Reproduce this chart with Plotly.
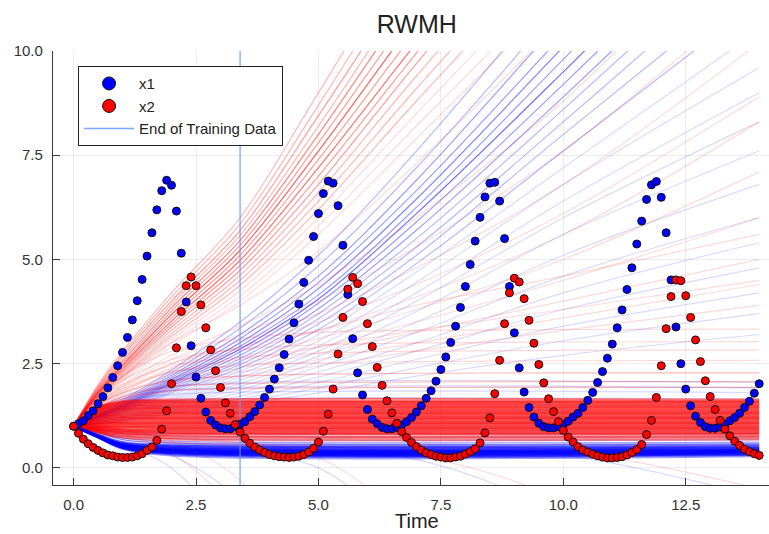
import plotly.graph_objects as go

# ---------------- data ----------------
time = [round(0.1 * i, 1) for i in range(141)]

x1 = [1.00, 1.06, 1.13, 1.26, 1.37, 1.54, 1.71, 1.92, 2.17, 2.45,
      2.77, 3.13, 3.55, 4.01, 4.52, 5.08, 5.64, 6.19, 6.65, 6.90,
      6.78, 6.16, 5.15, 3.98, 2.93, 2.18, 1.67, 1.34, 1.14, 1.03,
      0.96, 0.94, 0.94, 0.99, 1.05, 1.11, 1.23, 1.35, 1.51, 1.69,
      1.89, 2.13, 2.40, 2.72, 3.09, 3.48, 3.93, 4.45, 4.98, 5.55,
      6.10, 6.58, 6.88, 6.83, 6.29, 5.34, 4.16, 3.10, 2.28, 1.75,
      1.40, 1.17, 1.06, 0.97, 0.94, 0.94, 0.97, 1.03, 1.11, 1.21,
      1.34, 1.49, 1.67, 1.85, 2.08, 2.36, 2.66, 3.01, 3.40, 3.85,
      4.35, 4.88, 5.44, 6.01, 6.50, 6.83, 6.85, 6.40, 5.50, 4.35,
      3.24, 2.40, 1.82, 1.45, 1.22, 1.07, 0.99, 0.96, 0.96, 0.99,
      1.04, 1.12, 1.22, 1.31, 1.45, 1.62, 1.81, 2.05, 2.31, 2.63,
      2.97, 3.36, 3.79, 4.28, 4.80, 5.37, 5.92, 6.44, 6.79, 6.87,
      6.49, 5.64, 4.51, 3.38, 2.50, 1.89, 1.49, 1.24, 1.09, 0.99,
      0.95, 0.95, 0.98, 1.05, 1.13, 1.21, 1.31, 1.45, 1.60, 1.79,
      2.02]

x2 = [1.00, 0.83, 0.69, 0.58, 0.49, 0.42, 0.36, 0.31, 0.29, 0.26,
      0.25, 0.25, 0.26, 0.29, 0.34, 0.42, 0.50, 0.66, 0.93, 1.37,
      2.02, 2.88, 3.75, 4.37, 4.58, 4.37, 3.91, 3.36, 2.83, 2.33,
      1.93, 1.56, 1.31, 1.04, 0.86, 0.71, 0.59, 0.50, 0.43, 0.37,
      0.32, 0.29, 0.27, 0.26, 0.25, 0.26, 0.28, 0.32, 0.38, 0.47,
      0.62, 0.88, 1.29, 1.89, 2.73, 3.61, 4.29, 4.57, 4.42, 3.99,
      3.46, 2.91, 2.41, 1.98, 1.61, 1.32, 1.07, 0.87, 0.73, 0.61,
      0.51, 0.43, 0.36, 0.32, 0.28, 0.26, 0.24, 0.24, 0.26, 0.28,
      0.33, 0.39, 0.46, 0.60, 0.84, 1.20, 1.78, 2.58, 3.46, 4.20,
      4.55, 4.46, 4.06, 3.54, 2.99, 2.48, 2.04, 1.66, 1.35, 1.11,
      0.90, 0.74, 0.62, 0.51, 0.43, 0.38, 0.33, 0.29, 0.26, 0.24,
      0.24, 0.25, 0.27, 0.31, 0.37, 0.44, 0.56, 0.80, 1.14, 1.69,
      2.45, 3.34, 4.11, 4.51, 4.49, 4.13, 3.61, 3.07, 2.55, 2.09,
      1.71, 1.40, 1.14, 0.93, 0.77, 0.64, 0.54, 0.45, 0.39, 0.34,
      0.30]

t_train_end = 3.4

# posterior predictive trajectories, sampled at knot times;
# the *_n lists give how many posterior draws share each trajectory
knots = [0, 0.5, 1, 2, 3.4, 5, 7, 10, 14]
band_knots = [0, 0.5, 1, 2, 14]

red_fan = [
    [1, 2.00, 2.80, 4.20, 6.00, 9.00, 12.8, 18.0, 26],
    [1, 1.96, 2.74, 4.10, 5.85, 8.70, 12.4, 17.5, 25],
    [1, 1.93, 2.68, 4.00, 5.70, 8.45, 12.0, 17.0, 24],
    [1, 1.90, 2.62, 3.92, 5.58, 8.20, 11.7, 16.5, 23],
    [1, 1.87, 2.56, 3.84, 5.46, 8.00, 11.4, 16.0, 23],
    [1, 1.84, 2.50, 3.76, 5.34, 7.80, 11.1, 15.8, 22],
    [1, 1.82, 2.46, 3.68, 5.22, 7.60, 10.8, 15.4, 22],
    [1, 1.80, 2.42, 3.60, 5.10, 7.40, 10.5, 15.0, 21],
    [1, 1.78, 2.38, 3.52, 4.98, 7.20, 10.2, 14.6, 21],
    [1, 1.76, 2.34, 3.45, 4.86, 7.00, 9.95, 14.2, 20],
    [1, 1.74, 2.30, 3.38, 4.74, 6.80, 9.70, 13.8, 20],
    [1, 1.72, 2.26, 3.30, 4.62, 6.60, 9.40, 13.4, 19],
    [1, 1.70, 2.22, 3.22, 4.50, 6.40, 9.10, 13.0, 18.5],
    [1, 1.68, 2.18, 3.15, 4.38, 6.20, 8.80, 12.6, 18],
    [1, 1.66, 2.14, 3.08, 4.25, 6.00, 8.50, 12.2, 17.5],
    [1, 1.64, 2.10, 3.00, 4.12, 5.80, 8.20, 11.8, 17],
    [1, 1.62, 2.06, 2.92, 4.00, 5.60, 7.90, 11.4, 16],
]
red_fan_n = [2, 2, 3, 2, 4, 3, 6, 3, 5, 3, 3, 2, 2, 2, 1, 1, 1]

red_mid = [
    [1, 1.70, 2.20, 3.00, 3.90, 5.20, 7.30, 10.8, 16],
    [1, 1.60, 2.00, 2.70, 3.40, 4.40, 6.00, 8.80, 13.5],
    [1, 1.55, 1.95, 2.60, 3.20, 4.00, 5.30, 7.60, 11.5],
    [1, 1.50, 1.90, 2.50, 3.05, 3.70, 4.80, 6.80, 10.2],
    [1, 1.50, 1.85, 2.40, 2.90, 3.50, 4.40, 6.10, 8.90],
    [1, 1.45, 1.80, 2.35, 2.80, 3.30, 4.10, 5.60, 8.30],
    [1, 1.45, 1.75, 2.25, 2.65, 3.10, 3.80, 5.00, 7.10],
    [1, 1.40, 1.70, 2.15, 2.50, 2.90, 3.50, 4.50, 6.00],
    [1, 1.40, 1.65, 2.05, 2.40, 2.75, 3.25, 4.00, 5.00],
    [1, 1.35, 1.60, 2.00, 2.30, 2.60, 3.00, 3.60, 4.40],
    [1, 1.35, 1.55, 1.90, 2.20, 2.45, 2.80, 3.30, 3.90],
    [1, 1.70, 2.20, 2.80, 3.10, 3.25, 3.30, 3.32, 3.33],
    [1, 1.65, 2.10, 2.60, 2.85, 2.95, 3.00, 3.02, 3.03],
    [1, 1.60, 2.00, 2.45, 2.65, 2.75, 2.80, 2.82, 2.83],
    [1, 1.55, 1.90, 2.30, 2.45, 2.52, 2.55, 2.57, 2.58],
    [1, 1.50, 1.80, 2.10, 2.20, 2.25, 2.27, 2.28, 2.28],
    [1, 1.45, 1.70, 1.95, 2.02, 2.05, 2.06, 2.07, 2.07],
    [1, 1.45, 1.65, 1.85, 1.90, 1.92, 1.93, 1.93, 1.93],
    [1, 1.50, 1.85, 2.30, 2.60, 2.90, 3.30, 3.80, 4.50],
    [1, 1.55, 1.95, 2.50, 2.90, 3.30, 3.90, 4.60, 5.60],
]
red_mid_n = [1, 1, 1, 1, 1, 1, 1, 1, 1, 1, 1, 1, 1, 1, 1, 2, 2, 2, 1, 1]

red_band = [
    [1, 0.82, 0.73, 0.68, 0.68], [1, 0.85, 0.76, 0.72, 0.72],
    [1, 0.87, 0.80, 0.76, 0.76], [1, 0.89, 0.83, 0.80, 0.80],
    [1, 0.91, 0.86, 0.84, 0.84], [1, 0.93, 0.90, 0.88, 0.88],
    [1, 0.96, 0.93, 0.92, 0.92], [1, 0.98, 0.97, 0.96, 0.96],
    [1, 1.00, 1.00, 1.00, 1.00], [1, 1.03, 1.04, 1.04, 1.04],
    [1, 1.06, 1.07, 1.08, 1.08], [1, 1.08, 1.11, 1.12, 1.12],
    [1, 1.11, 1.15, 1.16, 1.16], [1, 1.14, 1.19, 1.20, 1.20],
    [1, 1.17, 1.22, 1.24, 1.24], [1, 1.20, 1.26, 1.28, 1.28],
    [1, 1.23, 1.30, 1.32, 1.32], [1, 1.26, 1.34, 1.36, 1.36],
    [1, 1.29, 1.38, 1.40, 1.40], [1, 1.32, 1.42, 1.44, 1.44],
    [1, 1.35, 1.45, 1.48, 1.48], [1, 1.38, 1.49, 1.52, 1.52],
    [1, 1.41, 1.53, 1.56, 1.56], [1, 1.44, 1.57, 1.60, 1.60],
    [1, 1.46, 1.60, 1.64, 1.64],
]
red_band_n = [3, 4, 5, 6, 7, 8, 8, 8, 8, 8, 8, 8, 8, 8, 8, 8, 8, 8, 8, 8, 8, 8, 8, 9, 5]

red_down = [
    [1, 0.92, 0.82, 0.35, -1.2, -5.0, -10, -18, -28],
    [1, 0.95, 0.90, 0.65, -0.3, -3.0, -8.0, -15, -25],
    [1, 0.88, 0.78, 0.70, 0.60, 0.25, -1.5, -6.0, -12],
    [1, 0.85, 0.72, 0.62, 0.58, 0.52, 0.30, -0.8, -4.0],
    [1, 0.85, 0.72, 0.60, 0.55, 0.52, 0.50, 0.42, -0.5],
]
red_down_n = [1, 1, 1, 1, 1]

blue_fan = [
    [1, 1.30, 1.62, 2.35, 3.50, 5.10, 7.60, 11.8, 18],
    [1, 1.28, 1.58, 2.28, 3.35, 4.85, 7.20, 11.2, 17],
    [1, 1.27, 1.55, 2.22, 3.20, 4.60, 6.90, 10.8, 16],
    [1, 1.26, 1.52, 2.17, 3.10, 4.45, 6.65, 10.4, 15.5],
    [1, 1.25, 1.50, 2.12, 3.00, 4.30, 6.45, 10.1, 15],
    [1, 1.24, 1.48, 2.08, 2.92, 4.15, 6.25, 9.80, 14.6],
    [1, 1.23, 1.46, 2.04, 2.85, 4.05, 6.10, 9.50, 14.2],
    [1, 1.22, 1.44, 2.00, 2.78, 3.95, 5.90, 9.20, 13.8],
    [1, 1.21, 1.42, 1.96, 2.70, 3.82, 5.70, 8.90, 13.4],
    [1, 1.20, 1.40, 1.92, 2.62, 3.70, 5.50, 8.60, 12.9],
    [1, 1.19, 1.38, 1.88, 2.55, 3.58, 5.30, 8.30, 12.4],
    [1, 1.18, 1.36, 1.84, 2.48, 3.45, 5.10, 8.00, 11.8],
    [1, 1.17, 1.34, 1.80, 2.40, 3.32, 4.90, 7.60, 11.2],
    [1, 1.16, 1.32, 1.75, 2.32, 3.20, 4.70, 7.20, 10.5],
    [1, 1.15, 1.30, 1.70, 2.25, 3.05, 4.45, 6.80, 9.60],
    [1, 1.14, 1.28, 1.66, 2.17, 2.92, 4.20, 6.40, 9.00],
    [1, 1.13, 1.26, 1.62, 2.10, 2.80, 4.00, 6.00, 8.30],
    [1, 1.12, 1.24, 1.58, 2.02, 2.68, 3.75, 5.60, 7.60],
    [1, 1.11, 1.22, 1.54, 1.95, 2.55, 3.50, 5.10, 6.80],
    [1, 1.10, 1.20, 1.50, 1.88, 2.42, 3.25, 4.60, 6.00],
    [1, 1.09, 1.18, 1.46, 1.80, 2.30, 3.00, 4.20, 5.40],
    [1, 1.08, 1.16, 1.42, 1.72, 2.18, 2.80, 3.80, 4.80],
    [1, 1.07, 1.14, 1.38, 1.65, 2.05, 2.60, 3.40, 4.20],
    [1, 1.06, 1.12, 1.34, 1.58, 1.92, 2.40, 3.05, 3.70],
    [1, 1.05, 1.10, 1.30, 1.52, 1.80, 2.20, 2.70, 3.20],
]
blue_fan_n = [2, 2, 3, 3, 4, 3, 5, 3, 3, 2, 2, 2, 2, 1, 1, 1, 1, 1, 1, 1, 1, 1, 1, 1, 1]

blue_flat = [
    [1, 0.85, 0.68, 0.60, 0.58], [1, 0.87, 0.72, 0.64, 0.62],
    [1, 0.90, 0.77, 0.70, 0.68], [1, 0.92, 0.82, 0.77, 0.75],
    [1, 0.94, 0.87, 0.83, 0.82], [1, 0.96, 0.92, 0.90, 0.90],
    [1, 1.00, 1.00, 1.00, 1.00], [1, 1.05, 1.08, 1.10, 1.10],
    [1, 1.10, 1.17, 1.21, 1.22], [1, 1.16, 1.28, 1.34, 1.35],
    [1, 1.22, 1.40, 1.48, 1.50], [1, 1.28, 1.50, 1.62, 1.65],
    [1, 1.33, 1.60, 1.76, 1.80], [1, 1.36, 1.66, 1.86, 1.92],
    [1, 1.38, 1.72, 1.96, 2.05],
]
blue_flat_n = [4, 3, 2, 2, 2, 1, 1, 1, 1, 1, 1, 1, 1, 1, 1]

blue_band = [
    [1, 0.72, 0.45, 0.30, 0.28], [1, 0.73, 0.47, 0.33, 0.31],
    [1, 0.74, 0.48, 0.35, 0.33], [1, 0.74, 0.49, 0.37, 0.35],
    [1, 0.75, 0.50, 0.39, 0.37], [1, 0.75, 0.51, 0.41, 0.39],
    [1, 0.76, 0.53, 0.43, 0.41], [1, 0.76, 0.54, 0.45, 0.43],
    [1, 0.77, 0.56, 0.47, 0.45], [1, 0.77, 0.57, 0.49, 0.47],
    [1, 0.78, 0.58, 0.51, 0.49], [1, 0.78, 0.59, 0.53, 0.51],
    [1, 0.79, 0.61, 0.54, 0.53], [1, 0.80, 0.62, 0.56, 0.55],
]
blue_band_n = [3, 5, 8, 10, 12, 12, 12, 10, 8, 6, 5, 4, 3, 3]

blue_down = [
    [1, 0.78, 0.55, 0.00, -2.0, -6.0, -12, -20, -30],
    [1, 0.80, 0.62, 0.30, -0.8, -4.0, -9.0, -17, -26],
    [1, 0.78, 0.55, 0.40, 0.32, 0.00, -2.0, -7.0, -14],
    [1, 0.78, 0.55, 0.42, 0.38, 0.35, 0.20, -1.2, -5.0],
    [1, 0.78, 0.55, 0.42, 0.40, 0.38, 0.37, 0.30, -0.7],
]
blue_down_n = [1, 1, 1, 1, 1]

# ---------------- figure ----------------
x_range = [-0.42, 14.2]
y_range = [-0.41, 10.0]
BASE_ALPHA = 0.15


def line_traces(t, groups, rgb, width):
    out = []
    for ys, ns in groups:
        for y, n in zip(ys, ns):
            op = 1 - (1 - BASE_ALPHA) ** n
            out.append(go.Scatter(
                x=t, y=y, mode="lines", showlegend=False, hoverinfo="skip",
                line=dict(color=f"rgba({rgb},{op:.3f})", width=width,
                          shape="spline", smoothing=1.0)))
    return out


blue_tr = (line_traces(knots, [(blue_fan, blue_fan_n), (blue_down, blue_down_n)], "0,0,255", 1.2)
           + line_traces(band_knots, [(blue_flat, blue_flat_n)], "0,0,255", 1.3)
           + line_traces(band_knots, [(blue_band, blue_band_n)], "0,0,255", 2.0))
red_tr = (line_traces(knots, [(red_fan, red_fan_n), (red_mid, red_mid_n), (red_down, red_down_n)], "255,0,0", 1.2)
          + line_traces(band_knots, [(red_band, red_band_n)], "255,0,0", 2.0))

fig = go.Figure()
for i in range(max(len(blue_tr), len(red_tr))):
    if i < len(blue_tr):
        fig.add_trace(blue_tr[i])
    if i < len(red_tr):
        fig.add_trace(red_tr[i])

vline_color = "rgba(100,150,245,0.85)"
fig.add_trace(go.Scatter(
    x=[t_train_end, t_train_end], y=y_range, mode="lines",
    showlegend=False, line=dict(color=vline_color, width=1.3)))
fig.add_trace(go.Scatter(
    x=time, y=x1, mode="markers", showlegend=False,
    marker=dict(color="#0000ff", size=8, line=dict(color="#111", width=1))))
fig.add_trace(go.Scatter(
    x=time, y=x2, mode="markers", showlegend=False,
    marker=dict(color="#ff0000", size=8, line=dict(color="#111", width=1))))

# legend entries (larger legend symbols, as in the reference)
fig.add_trace(go.Scatter(x=[None], y=[None], mode="markers", name="x1", legendrank=1,
                         marker=dict(color="#0000ff", size=13, line=dict(color="#111", width=1))))
fig.add_trace(go.Scatter(x=[None], y=[None], mode="markers", name="x2", legendrank=2,
                         marker=dict(color="#ff0000", size=13, line=dict(color="#111", width=1))))
fig.add_trace(go.Scatter(x=[None], y=[None], mode="lines", name="End of Training Data",
                         legendrank=3, line=dict(color=vline_color, width=1.5)))

axis_common = dict(
    showgrid=True, gridcolor="rgba(0,0,0,0.07)", gridwidth=1,
    zeroline=False, showline=True, linecolor="#3a3a3a", linewidth=1.2,
    ticks="inside", ticklen=7, tickcolor="#3a3a3a", tickwidth=1,
    tickformat=".1f", tick0=0, dtick=2.5, mirror=False,
    tickfont=dict(size=15, color="#333"), ticklabelstandoff=6,
)

fig.update_layout(
    width=769, height=534,
    margin=dict(l=53, r=0, t=51, b=49),
    paper_bgcolor="white", plot_bgcolor="white",
    font=dict(family="Liberation Sans, Arial, sans-serif", size=15, color="#222"),
    title=dict(text="RWMH", x=0.508, xref="paper", xanchor="center",
               y=1 - 24 / 534, yref="container", yanchor="middle",
               font=dict(size=25, color="#222")),
    xaxis=dict(range=x_range, **axis_common),
    yaxis=dict(range=y_range, **axis_common),
    showlegend=True,
    legend=dict(x=0.035, y=0.965, xanchor="left", yanchor="top",
                bgcolor="white", bordercolor="#222", borderwidth=1,
                font=dict(size=15, color="#222"),
                itemwidth=50, traceorder="normal"),
    annotations=[dict(text="Time", xref="paper", yref="paper", x=0.508, y=-36 / 434,
                      xanchor="center", yanchor="middle", showarrow=False,
                      font=dict(size=20, color="#222"))],
)

fig.write_html("out.html")
